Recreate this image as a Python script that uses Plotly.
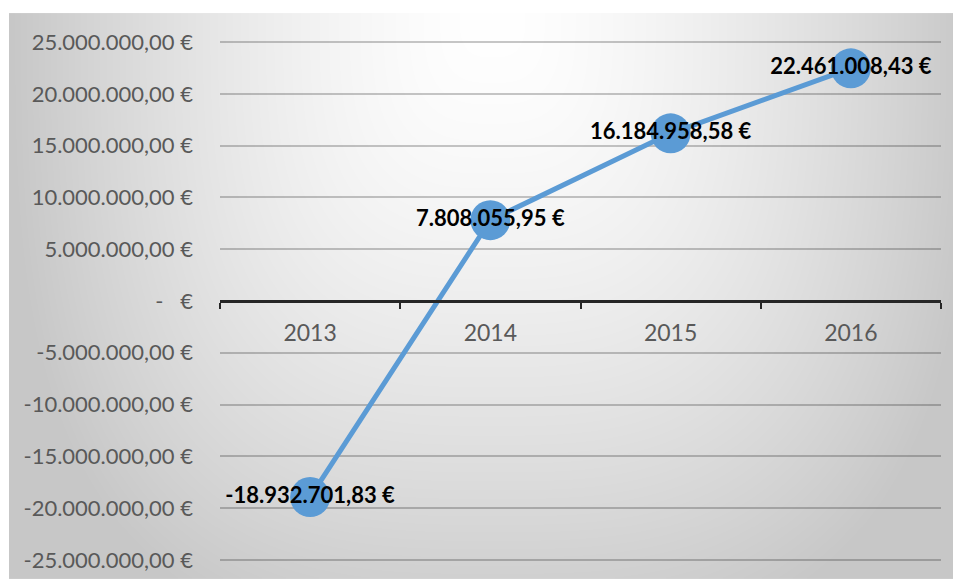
import base64
import struct
import zlib

import numpy as np
import plotly.graph_objects as go

# Annual result per year (EUR)
years = ["2013", "2014", "2015", "2016"]
results = [-18932701.83, 7808055.95, 16184958.58, 22461008.43]

# Value axis ticks
y_ticks = [25e6, 20e6, 15e6, 10e6, 5e6, 0, -5e6, -10e6, -15e6, -20e6, -25e6]
Y_MAX = 25.2e6  # small headroom so the outer gridlines are drawn

W, H = 957, 579
PX_PER_EUR = 518 / 50e6
PAD = (Y_MAX - 25e6) * PX_PER_EUR
PLOT_L, PLOT_R = 220, 941
PLOT_T, PLOT_B = 42 - PAD, 560 + PAD
BG_L, BG_R, BG_T, BG_B = 9, 953, 13, 579


def euro(v):
    """German-style currency text, e.g. 7.808.055,95 €"""
    s = f"{abs(v):,.2f}".replace(",", "X").replace(".", ",").replace("X", ".")
    return ("-" if v < 0 else "") + s + " €"


def euro_tick(v):
    if v == 0:
        return "-\u00a0\u00a0\u00a0€"
    return euro(v)


def gradient_png(w, h):
    """Soft grey radial backdrop as a grayscale PNG data URI."""
    xs = np.arange(w)[None, :] + BG_L
    ys = np.arange(h)[:, None] + BG_T
    dx = np.abs(xs - 492) / 483.0
    dy = np.abs(ys - BG_T) / 640.0
    d = (dx ** 3 + dy ** 3) ** (1 / 3)
    d = np.clip(d, 0, 1.0)
    val = 255 - 56 * d ** 1.5
    img = np.clip(val, 0, 255).astype(np.uint8)
    raw = b"".join(b"\x00" + img[r].tobytes() for r in range(h))

    def chunk(tag, data):
        c = struct.pack(">I", len(data)) + tag + data
        return c + struct.pack(">I", zlib.crc32(tag + data) & 0xFFFFFFFF)

    png = b"\x89PNG\r\n\x1a\n"
    png += chunk(b"IHDR", struct.pack(">IIBBBBB", w, h, 8, 0, 0, 0, 0))
    png += chunk(b"IDAT", zlib.compress(raw, 9))
    png += chunk(b"IEND", b"")
    return "data:image/png;base64," + base64.b64encode(png).decode()


pw = PLOT_R - PLOT_L
ph = PLOT_B - PLOT_T
bg_w, bg_h = BG_R - BG_L, BG_B - BG_T

fig = go.Figure()
fig.add_trace(
    go.Scatter(
        x=years,
        y=results,
        mode="lines+markers+text",
        line=dict(color="#5b9bd5", width=5),
        marker=dict(size=40, color="#5b9bd5", line=dict(width=0)),
        text=[euro(v) for v in results],
        textposition="middle center",
        textfont=dict(family="Lato", size=22, color="#000000", weight="bold"),
        hoverinfo="skip",
        cliponaxis=False,
    )
)

fig.update_layout(
    width=W,
    height=H,
    margin=dict(l=PLOT_L, r=W - PLOT_R, t=PLOT_T, b=H - PLOT_B, autoexpand=False),
    paper_bgcolor="#ffffff",
    plot_bgcolor="rgba(0,0,0,0)",
    showlegend=False,
    images=[
        dict(
            source=gradient_png(bg_w, bg_h),
            xref="paper",
            yref="paper",
            x=(BG_L - PLOT_L) / pw,
            y=(PLOT_B - BG_T) / ph,
            sizex=bg_w / pw,
            sizey=bg_h / ph,
            xanchor="left",
            yanchor="top",
            sizing="stretch",
            layer="below",
        )
    ],
    xaxis=dict(
        type="category",
        anchor="free",
        position=0.5,
        showline=True,
        linecolor="#262626",
        linewidth=2.5,
        ticks="outside",
        tickson="boundaries",
        ticklen=6,
        tickwidth=2,
        tickcolor="#262626",
        ticklabelstandoff=11,
        showgrid=False,
        zeroline=False,
        tickfont=dict(family="Lato", size=23, color="#595959"),
        range=[-0.5, 3.5],
    ),
    yaxis=dict(
        range=[-Y_MAX, Y_MAX],
        tickvals=y_ticks,
        ticktext=[euro_tick(v) for v in y_ticks],
        showgrid=True,
        gridcolor="rgba(0,0,0,0.22)",
        gridwidth=1.8,
        zeroline=False,
        showline=False,
        ticks="",
        ticklabelstandoff=26,
        tickfont=dict(family="Lato", size=22, color="#595959"),
    ),
)

fig.write_html("out.html")
